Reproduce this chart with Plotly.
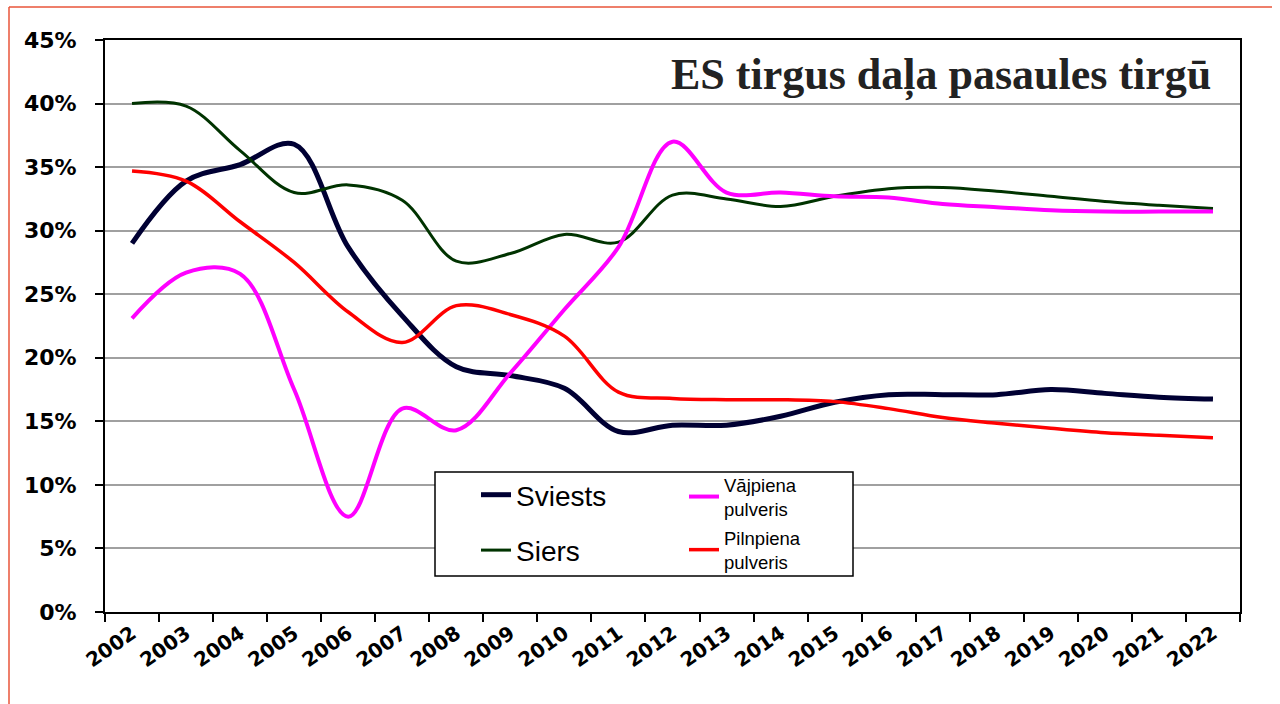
import plotly.graph_objects as go

years = [str(y) for y in range(2002, 2023)]

sviests = [29.0, 33.9, 35.2, 36.8, 28.7, 23.3, 19.3, 18.6, 17.6, 14.2, 14.7,
           14.7, 15.4, 16.5, 17.1, 17.1, 17.1, 17.5, 17.2, 16.9, 16.75]
siers = [40.0, 39.8, 36.3, 33.0, 33.6, 32.4, 27.6, 28.2, 29.7, 29.1, 32.8,
         32.5, 31.9, 32.7, 33.3, 33.4, 33.1, 32.7, 32.3, 32.0, 31.75]
vajpiena = [23.1, 26.7, 26.6, 17.5, 7.5, 16.0, 14.3, 18.8, 23.8, 28.7, 37.0,
            33.0, 33.0, 32.7, 32.6, 32.1, 31.85, 31.6, 31.5, 31.5, 31.5]
pilnpiena = [34.7, 33.9, 30.7, 27.5, 23.6, 21.2, 24.1, 23.4, 21.7, 17.3, 16.8,
             16.7, 16.7, 16.55, 16.0, 15.3, 14.85, 14.45, 14.1, 13.9, 13.7]

title_text = "ES tirgus daļa pasaules tirgū"
y_ticks = list(range(0, 50, 5))
y_tick_text = [f"{v}%" for v in y_ticks]

fig = go.Figure()
fig.add_trace(go.Scatter(x=years, y=sviests, name="Sviests", mode="lines",
                         line=dict(color="#000033", width=5, shape="spline", smoothing=1),
                         legend="legend", legendgroup="a"))
fig.add_trace(go.Scatter(x=years, y=siers, name="Siers", mode="lines",
                         line=dict(color="#003300", width=3, shape="spline", smoothing=1),
                         legend="legend", legendgroup="b"))
fig.add_trace(go.Scatter(x=years, y=vajpiena, name="Vājpiena<br>pulveris", mode="lines",
                         line=dict(color="#FF00FF", width=4, shape="spline", smoothing=1),
                         legend="legend2", legendgroup="c"))
fig.add_trace(go.Scatter(x=years, y=pilnpiena, name="Pilnpiena<br>pulveris", mode="lines",
                         line=dict(color="#FF0000", width=3.5, shape="spline", smoothing=1),
                         legend="legend2", legendgroup="d"))

W, H = 1280, 704
L, R, T, B = 105, 1240, 40, 612


def px(x):
    return (x - L) / (R - L)


def py(y):
    return (B - y) / (B - T)


fig.update_layout(
    width=W, height=H,
    margin=dict(l=L, r=W - R, t=T, b=H - B, autoexpand=False),
    paper_bgcolor="white", plot_bgcolor="white",
    showlegend=True,
    legend=dict(x=px(476), y=py(470), xanchor="left", yanchor="top",
                bgcolor="rgba(0,0,0,0)", tracegroupgap=16,
                font=dict(family="Liberation Sans, Arial", size=28, color="black")),
    legend2=dict(x=px(684), y=py(466), xanchor="left", yanchor="top",
                 bgcolor="rgba(0,0,0,0)", tracegroupgap=2,
                 font=dict(family="Liberation Sans, Arial", size=18.5, color="black")),
    xaxis=dict(type="category", range=[-0.5, 20.5], showgrid=False, showline=True,
               linecolor="black", linewidth=2, mirror=True, ticks="outside", ticklen=8,
               tickwidth=2, tickcolor="black", tickson="boundaries", tickangle=-35,
               automargin=False,
               tickfont=dict(family="DejaVu Sans", size=20, color="black", weight="bold")),
    yaxis=dict(range=[0, 45], tickvals=y_ticks, ticktext=y_tick_text, showgrid=True,
               gridcolor="#A0A0A0", gridwidth=1.5, showline=True, linecolor="black",
               linewidth=2, mirror=True, ticks="outside", ticklen=8, tickwidth=2,
               tickcolor="black", ticklabelstandoff=14, zeroline=False,
               automargin=False,
               tickfont=dict(family="DejaVu Sans", size=22, color="black", weight="bold")),
    shapes=[
        dict(type="rect", xref="paper", yref="paper", x0=px(435), x1=px(853),
             y0=py(576), y1=py(472), line=dict(color="black", width=1.5),
             fillcolor="white", layer="above"),
        dict(type="line", xref="paper", yref="paper", x0=px(9), x1=px(1272),
             y0=py(7), y1=py(7), line=dict(color="#E8553A", width=1.5)),
        dict(type="line", xref="paper", yref="paper", x0=px(9), x1=px(9),
             y0=py(7), y1=py(704), line=dict(color="#E8553A", width=1.5)),
    ],
    annotations=[
        dict(text=title_text, xref="paper", yref="paper", x=px(1213), y=py(76),
             xanchor="right", yanchor="middle", showarrow=False,
             font=dict(family="Liberation Serif, Times New Roman", size=44,
                       color="#222222", weight="bold")),
    ],
)

fig.write_html("out.html", config={"displayModeBar": False},
               post_script="document.body.style.margin='0px';document.body.style.overflow='hidden';")
